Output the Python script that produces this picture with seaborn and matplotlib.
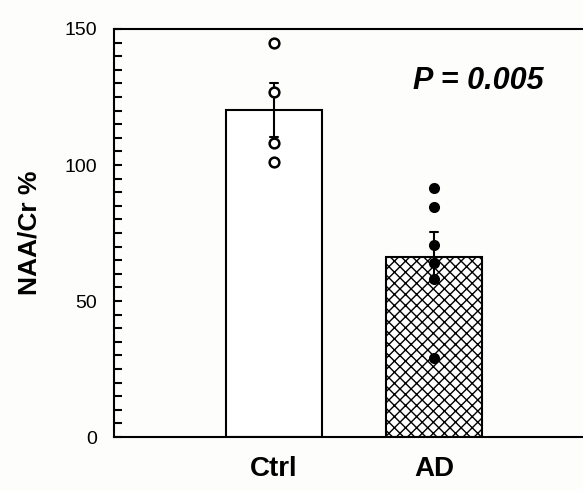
import numpy as np
import pandas as pd
import matplotlib
matplotlib.use('Agg')
import matplotlib.pyplot as plt
import seaborn as sns
from matplotlib.ticker import MultipleLocator

# Valores individuais
ctrl_vals = [145, 127, 108, 101]
ad_vals = [91.5, 84.5, 70.5, 64, 58, 29]
grupos = ['Ctrl', 'AD']
p_texto = 'P = 0.005'

df = pd.DataFrame({
    'grupo': ['Ctrl'] * len(ctrl_vals) + ['AD'] * len(ad_vals),
    'valor': ctrl_vals + ad_vals,
})

sns.set_style('white')
plt.rcParams['font.family'] = ['Liberation Sans', 'DejaVu Sans']
plt.rcParams['hatch.linewidth'] = 1.0
plt.rcParams['text.color'] = 'black'
plt.rcParams['axes.labelcolor'] = 'black'
plt.rcParams['xtick.color'] = 'black'
plt.rcParams['ytick.color'] = 'black'

fig = plt.figure(figsize=(5.83, 4.91), dpi=100, facecolor='#fdfdfb')
ax = fig.add_axes([114 / 583, 1 - 437 / 491, 480 / 583, 408 / 491])
ax.set_facecolor('#fdfdfb')

sns.barplot(data=df, x='grupo', y='valor', order=grupos, errorbar='se',
            width=0.6, color='white', edgecolor='black', linewidth=1.5,
            err_kws={'color': 'black', 'linewidth': 1.5}, capsize=0.05, ax=ax)
ax.patches[1].set_hatch('xxx')

# pontos individuais
sns.stripplot(data=df[df['grupo'] == 'Ctrl'], x='grupo', y='valor', order=grupos,
              jitter=False, color='white', edgecolor='black', linewidth=1.8,
              size=7, ax=ax, zorder=5)
sns.stripplot(data=df[df['grupo'] == 'AD'], x='grupo', y='valor', order=grupos,
              jitter=False, color='black', size=8, ax=ax, zorder=5)

ax.set_xlim(-1, 2)
ax.set_ylim(0, 150)
ax.set_yticks([0, 50, 100, 150])
ax.yaxis.set_minor_locator(MultipleLocator(5))
ax.tick_params(axis='y', which='both', direction='in', length=6, width=1.5,
               labelsize=14, left=True, pad=12)
ax.tick_params(axis='x', length=0, labelsize=20, pad=14)
for lb in ax.get_xticklabels():
    lb.set_fontweight('bold')

for s in ['left', 'top', 'bottom']:
    ax.spines[s].set_linewidth(1.5)
    ax.spines[s].set_color('black')
ax.spines['right'].set_visible(False)

ax.set_xlabel('')
ax.set_ylabel('NAA/Cr %', fontsize=19, fontweight='bold', labelpad=17)

ax.text(0.87, 131, p_texto, fontsize=22, fontweight='bold', fontstyle='italic',
        ha='left', va='center')

fig.savefig('out.png', dpi=100, facecolor=fig.get_facecolor())
